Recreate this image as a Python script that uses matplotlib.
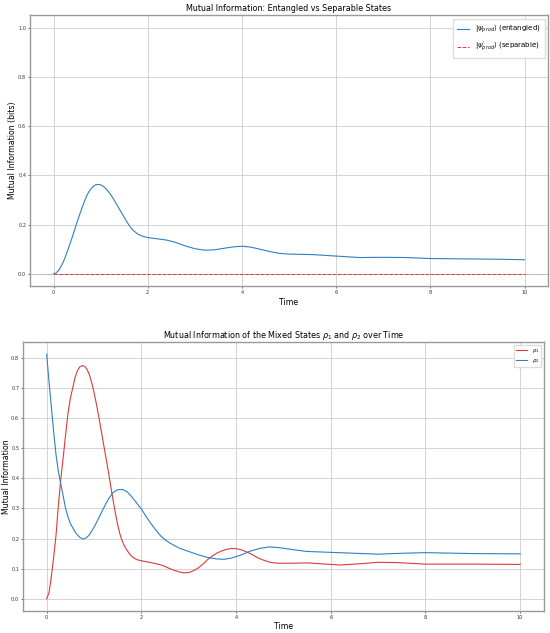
import matplotlib
matplotlib.use("Agg")
import matplotlib.pyplot as plt

# ---- top panel data ----
t_ent = [0, 0.05, 0.1, 0.15, 0.2, 0.25, 0.3, 0.35, 0.4, 0.45, 0.5, 0.55, 0.6, 0.65, 0.7,
         0.75, 0.8, 0.85, 0.9, 0.95, 1.0, 1.05, 1.1, 1.15, 1.2, 1.25, 1.3, 1.35, 1.4, 1.45,
         1.5, 1.55, 1.6, 1.65, 1.7, 1.75, 1.8, 1.9, 2.0, 2.2, 2.4, 2.6, 2.8, 3.0, 3.2,
         3.4, 3.6, 3.8, 4.0, 4.2, 4.4, 4.6, 4.8, 5.0, 5.5, 6.0, 6.5, 7.0, 7.5, 8.0, 8.5,
         9.0, 9.5, 10.0]
mi_ent = [0.0, 0.003, 0.012, 0.026, 0.045, 0.068, 0.095, 0.122, 0.150, 0.180, 0.210, 0.238,
          0.265, 0.291, 0.315, 0.333, 0.347, 0.356, 0.362, 0.363, 0.361, 0.356, 0.348,
          0.337, 0.325, 0.311, 0.295, 0.279, 0.262, 0.246, 0.230, 0.213, 0.198, 0.185,
          0.175, 0.167, 0.160, 0.152, 0.147, 0.142, 0.137, 0.127, 0.113, 0.102, 0.096,
          0.097, 0.103, 0.109, 0.112, 0.108, 0.099, 0.090, 0.083, 0.080, 0.078, 0.072,
          0.066, 0.067, 0.066, 0.062, 0.061, 0.060, 0.059, 0.057]
t_sep = [0, 10]
mi_sep = [0.0, 0.0]

# ---- bottom panel data ----
t_rho1 = [0, 0.05, 0.1, 0.15, 0.2, 0.25, 0.3, 0.35, 0.4, 0.45, 0.5, 0.55, 0.6, 0.65, 0.7,
          0.76, 0.8, 0.85, 0.9, 0.95, 1.0, 1.05, 1.1, 1.15, 1.2, 1.25, 1.3, 1.35, 1.4,
          1.45, 1.5, 1.55, 1.6, 1.65, 1.7, 1.75, 1.8, 1.9, 2.0, 2.2, 2.4, 2.5, 2.6, 2.7,
          2.8, 2.9, 3.0, 3.1, 3.2, 3.3, 3.4, 3.5, 3.6, 3.7, 3.8, 3.9, 4.0, 4.1, 4.2, 4.3,
          4.4, 4.5, 4.6, 4.7, 4.8, 4.9, 5.2, 5.5, 5.8, 6.2, 6.6, 7.0, 7.4, 8.0, 9.0, 10.0]
mi_rho1 = [0.0, 0.02, 0.075, 0.14, 0.215, 0.315, 0.40, 0.47, 0.545, 0.615, 0.665, 0.70,
           0.735, 0.757, 0.770, 0.774, 0.772, 0.762, 0.745, 0.718, 0.685, 0.647, 0.605,
           0.560, 0.515, 0.470, 0.425, 0.377, 0.330, 0.285, 0.245, 0.213, 0.190, 0.173,
           0.160, 0.149, 0.140, 0.130, 0.126, 0.120, 0.113, 0.107, 0.100, 0.094, 0.089,
           0.086, 0.087, 0.093, 0.102, 0.115, 0.130, 0.142, 0.152, 0.159, 0.164, 0.167,
           0.166, 0.163, 0.157, 0.150, 0.141, 0.133, 0.127, 0.122, 0.119, 0.118, 0.118,
           0.119, 0.116, 0.112, 0.116, 0.121, 0.120, 0.115, 0.115, 0.114]
t_rho2 = [0, 0.05, 0.1, 0.15, 0.2, 0.25, 0.3, 0.35, 0.4, 0.45, 0.5, 0.55, 0.6, 0.65, 0.7,
          0.77, 0.85, 0.9, 1.0, 1.1, 1.2, 1.3, 1.4, 1.5, 1.6, 1.7, 1.8, 1.9, 2.0, 2.1,
          2.2, 2.3, 2.4, 2.5, 2.6, 2.8, 3.0, 3.2, 3.4, 3.6, 3.75, 3.9, 4.1, 4.3, 4.5,
          4.7, 4.9, 5.2, 5.5, 6.0, 6.5, 7.0, 7.5, 8.0, 9.0, 10.0]
mi_rho2 = [0.812, 0.72, 0.635, 0.55, 0.475, 0.42, 0.38, 0.34, 0.30, 0.272, 0.25, 0.236,
           0.222, 0.212, 0.204, 0.198, 0.204, 0.212, 0.237, 0.268, 0.300, 0.330, 0.352,
           0.362, 0.363, 0.355, 0.338, 0.318, 0.298, 0.273, 0.250, 0.229, 0.210, 0.196,
           0.185, 0.168, 0.157, 0.146, 0.137, 0.132, 0.131, 0.135, 0.145, 0.158, 0.167,
           0.172, 0.170, 0.163, 0.157, 0.154, 0.151, 0.148, 0.151, 0.153, 0.150, 0.149]

fig = plt.figure(figsize=(5.5, 6.33), dpi=100)
ax1 = fig.add_axes([0.0545, 0.548, 0.942, 0.428])
ax2 = fig.add_axes([0.0418, 0.0348, 0.947, 0.425])

title_fs = 5.8
label_fs = 5.6
tick_fs = 3.6
blue = '#2f80c0'
red = '#dc3a3a'

def style(ax):
    ax.grid(True, color='#cccccc', linewidth=0.6)
    ax.set_axisbelow(True)
    for s in ax.spines.values():
        s.set_color('#999999')
        s.set_linewidth(1.0)
    ax.tick_params(labelsize=tick_fs, length=1.5, width=0.5, pad=1.2, colors='#333333')

# top
ax1.axhline(0, color='gray', linewidth=0.6, linestyle=':', alpha=0.8)
ax1.plot(t_ent, mi_ent, color=blue, linewidth=0.8,
         label=r'$|\psi_{prod}\rangle$ (entangled)')
ax1.plot(t_sep, mi_sep, color=red, linewidth=0.7, linestyle='--',
         label=r"$|\psi_{prod}^{'}\rangle$ (separable)")
ax1.set_xlim(-0.5, 10.5)
ax1.set_ylim(-0.05, 1.05)
ax1.set_title('Mutual Information: Entangled vs Separable States', fontsize=title_fs, pad=3)
ax1.set_xlabel('Time', fontsize=label_fs, labelpad=2)
ax1.set_ylabel('Mutual Information (bits)', fontsize=label_fs)
ax1.yaxis.set_label_coords(-0.026, 0.5)
style(ax1)
ax1.legend(loc='upper right', fontsize=5.0, handlelength=1.8, borderpad=0.6,
           labelspacing=0.7, fancybox=False, framealpha=1, edgecolor='#dddddd')

# bottom
ax2.plot(t_rho1, mi_rho1, color=red, linewidth=0.8, label=r'$\rho_1$')
ax2.plot(t_rho2, mi_rho2, color=blue, linewidth=0.8, label=r'$\rho_2$')
ax2.set_xlim(-0.5, 10.5)
ax2.set_title(r'Mutual Information of the Mixed States $\rho_1$ and $\rho_2$ over Time',
              fontsize=title_fs, pad=3)
ax2.set_xlabel('Time', fontsize=label_fs, labelpad=2)
ax2.set_ylabel('Mutual Information', fontsize=label_fs)
ax2.yaxis.set_label_coords(-0.0235, 0.5)
style(ax2)
ax2.legend(loc='upper right', fontsize=3.8, handlelength=2.2,
           fancybox=False, framealpha=1, edgecolor='#dddddd')

fig.savefig('out.png', dpi=100)
